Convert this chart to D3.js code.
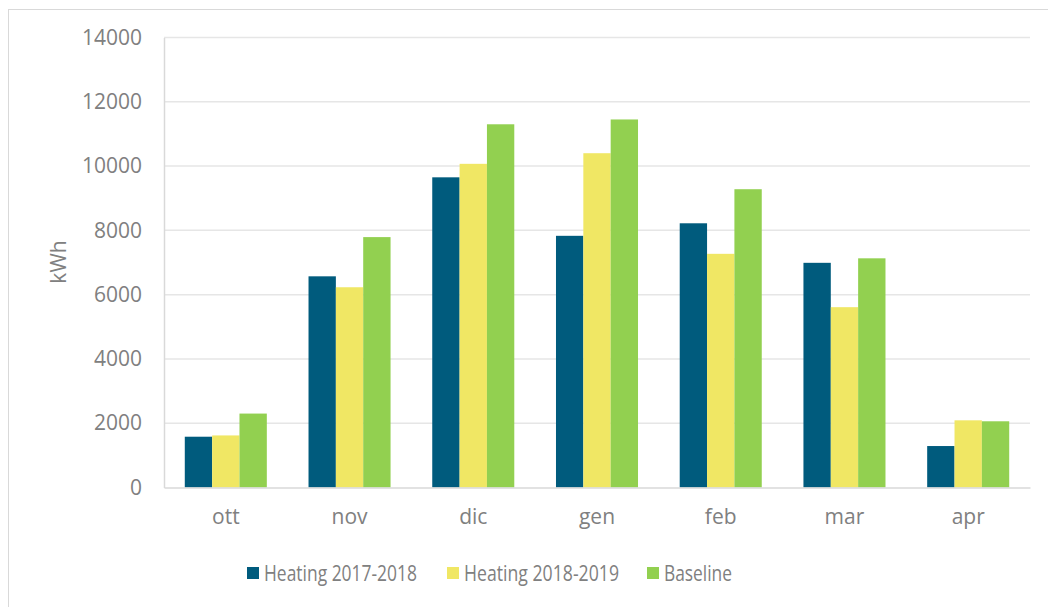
<!DOCTYPE html>
<html>
<head>
<meta charset="utf-8">
<script src="https://cdn.jsdelivr.net/npm/d3@7"></script>
<style>
  html, body { margin: 0; padding: 0; background: #fff; }
  svg { display: block; }
  text { font-family: "Open Sans", sans-serif; fill: #808080; }
</style>
</head>
<body>
<svg id="chart" width="1048" height="607"></svg>
<script>
// Monthly heating energy (kWh)
const months = ["ott", "nov", "dic", "gen", "feb", "mar", "apr"];
const seriesNames = ["Heating 2017-2018", "Heating 2018-2019", "Baseline"];
const heating1718 = [1580, 6570, 9650, 7830, 8220, 6990, 1290];
const heating1819 = [1620, 6230, 10070, 10400, 7270, 5610, 2090];
const baseline    = [2300, 7790, 11300, 11450, 9280, 7130, 2060];
const yTicks = [0, 2000, 4000, 6000, 8000, 10000, 12000, 14000];
const colors = ["#005B7D", "#F0E764", "#92D050"];

const seriesValues = [heating1718, heating1819, baseline];
const rows = months.map((m, i) => ({
  month: m,
  values: seriesNames.map((s, k) => ({ key: s, idx: k, value: seriesValues[k][i] }))
}));

const svg = d3.select("#chart");
const margin = { left: 164, right: 1030, top: 37.5, bottom: 487.5 };

// outer frame
svg.append("rect")
  .attr("x", 8.5).attr("y", 9.5)
  .attr("width", 1060).attr("height", 620)
  .attr("fill", "none").attr("stroke", "#d9d9d9").attr("stroke-width", 1);

const x = d3.scaleBand().domain(months).range([margin.left, margin.right])
  .paddingInner(0.337).paddingOuter(0.168);
const x1 = d3.scaleBand().domain(seriesNames).range([0, x.bandwidth()]);
const y = d3.scaleLinear().domain([0, 14000]).range([margin.bottom, margin.top]);

// gridlines
svg.append("g")
  .selectAll("line")
  .data(yTicks.filter(t => t > 0))
  .join("line")
  .attr("x1", margin.left).attr("x2", margin.right)
  .attr("y1", d => y(d)).attr("y2", d => y(d))
  .attr("stroke", "#e6e6e6").attr("stroke-width", 1.5);

// bars
svg.append("g")
  .selectAll("g")
  .data(rows)
  .join("g")
  .attr("transform", d => `translate(${x(d.month)},0)`)
  .selectAll("rect")
  .data(d => d.values)
  .join("rect")
  .attr("x", d => x1(d.key))
  .attr("width", x1.bandwidth())
  .attr("y", d => y(d.value))
  .attr("height", d => y(0) - y(d.value))
  .attr("fill", d => colors[d.idx]);

// y axis
const yAxis = svg.append("g")
  .attr("transform", `translate(${margin.left},0)`)
  .call(d3.axisLeft(y).tickValues(yTicks).tickSize(0).tickPadding(22).tickFormat(d3.format("d")));
yAxis.select(".domain").attr("stroke", "#d9d9d9").attr("stroke-width", 1.5);
yAxis.selectAll("text").attr("font-size", 21).attr("fill", "#808080");

// x axis
const xAxis = svg.append("g")
  .attr("transform", `translate(0,${margin.bottom})`)
  .call(d3.axisBottom(x).tickSize(0).tickPadding(22));
xAxis.select(".domain").attr("stroke", "#d9d9d9").attr("stroke-width", 1.5);
xAxis.selectAll("text").attr("font-size", 21).attr("fill", "#808080");

// y axis title
svg.append("text")
  .attr("transform", "translate(66,262) rotate(-90)")
  .attr("text-anchor", "middle")
  .attr("font-size", 21)
  .text("kWh");

// legend
const legendX = [247, 447, 647];
const legendW = [153, 155, 68];
const legend = svg.append("g");
seriesNames.forEach((name, i) => {
  legend.append("rect")
    .attr("x", legendX[i]).attr("y", 567)
    .attr("width", 12).attr("height", 12)
    .attr("fill", colors[i]);
  legend.append("text")
    .attr("x", legendX[i] + 17).attr("y", 581)
    .attr("font-size", 21)
    .attr("textLength", legendW[i])
    .attr("lengthAdjust", "spacingAndGlyphs")
    .text(name);
});
</script>
</body>
</html>
